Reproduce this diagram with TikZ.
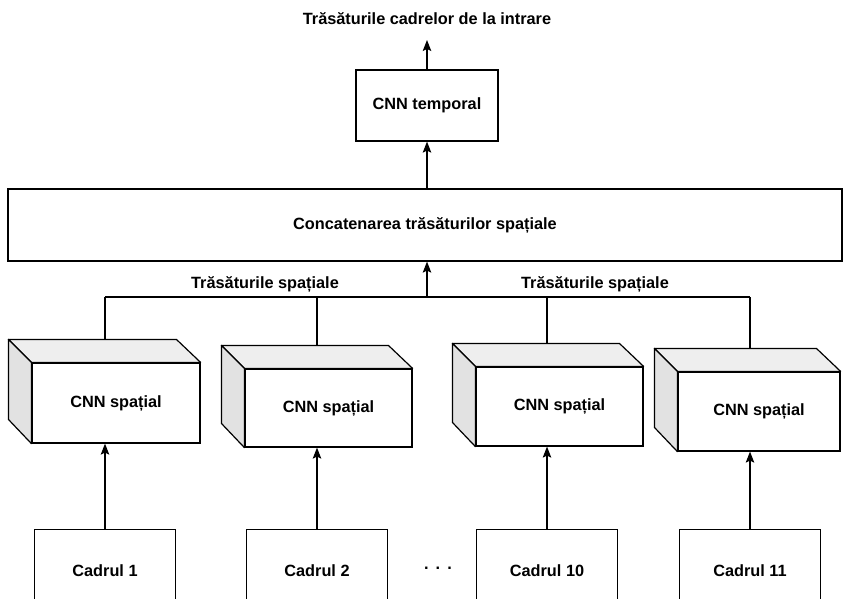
\documentclass[tikz,border=0pt]{standalone}
\usepackage{fontspec}
\setmainfont{Liberation Sans}
\usetikzlibrary{arrows.meta}

\definecolor{topgray}{HTML}{EEEEEE}
\definecolor{sidegray}{HTML}{E2E2E2}

\begin{document}
\begin{tikzpicture}[x=1pt, y=-1pt,
	box/.style={draw, line width=1.2pt, fill=white, inner sep=0pt, font=\fontsize{16.3}{19}\selectfont\bfseries},
	face/.style={draw, line width=1.2pt, line join=round},
	wire/.style={line width=1.1pt},
	arr/.style={wire, -{Stealth[length=11pt, width=8.5pt, inset=2pt]}},
	lbl/.style={inner sep=1pt, font=\fontsize{16.3}{19}\selectfont\bfseries}]

\def\width{843}
\def\height{598}
\def\dep{23}

\path [use as bounding box] (0,0) rectangle (\width,\height);
\clip (0,0) rectangle (\width,\height);

% FRAMES
\foreach \i/\x/\t in {1/105/Cadrul 1, 2/317/Cadrul 2, 3/547/Cadrul 10, 4/750/Cadrul 11}
	\node [box, minimum width=141, minimum height=82, anchor=north] (f\i) at (\x,529) {\t};
\node [lbl] (dots) at (438,568) {.\hspace{7pt}.\hspace{7pt}.};

% SPATIAL CNN
\foreach \i/\x/\y/\w/\h in {1/116/403/168/80, 2/328.5/408/167/78, 3/559.5/406.5/167/79, 4/759/411.5/162/79} {
	\node [box, minimum width=\w, minimum height=\h] (s\i) at (\x,\y) {CNN spațial};
	\filldraw [face, fill=topgray] (s\i.north west) -- ++(-\dep,-\dep) -- ++(\w,0) -- (s\i.north east) -- cycle;
	\filldraw [face, fill=sidegray] (s\i.north west) -- ++(-\dep,-\dep) -- ++(0,\h) -- (s\i.south west) -- cycle;
	\path (s\i.north) ++(-\dep,-\dep) coordinate (b\i);
	\draw [arr] (f\i.north) -- (f\i.north |- s\i.south);
}

% BRANCH
\coordinate (j1) at (105,297);
\coordinate (j2) at (317,297);
\coordinate (j3) at (547,297);
\coordinate (j4) at (750,297);
\coordinate (jc) at (427,297);
\draw [wire] (j1) -- (j4);
\foreach \i in {1,...,4}
	\draw [wire] (j\i) -- (j\i |- b\i);
\node [lbl] (l1) at (265,284) {Trăsăturile spațiale};
\node [lbl] (l2) at (595,284) {Trăsăturile spațiale};

% CONCAT + TEMPORAL
\node [box, minimum width=834, minimum height=72] (cat) at (425,225) {Concatenarea trăsăturilor spațiale};
\draw [arr] (jc) -- (jc |- cat.south);
\node [box, minimum width=142, minimum height=71] (tmp) at (427,105.5) {CNN temporal};
\draw [arr] (tmp.south |- cat.north) -- (tmp.south);

% OUTPUT
\node [lbl] (ttl) at (427,19) {Trăsăturile cadrelor de la intrare};
\coordinate (out) at (427,40);
\draw [arr] (tmp.north) -- (out);

\end{tikzpicture}
\end{document}
